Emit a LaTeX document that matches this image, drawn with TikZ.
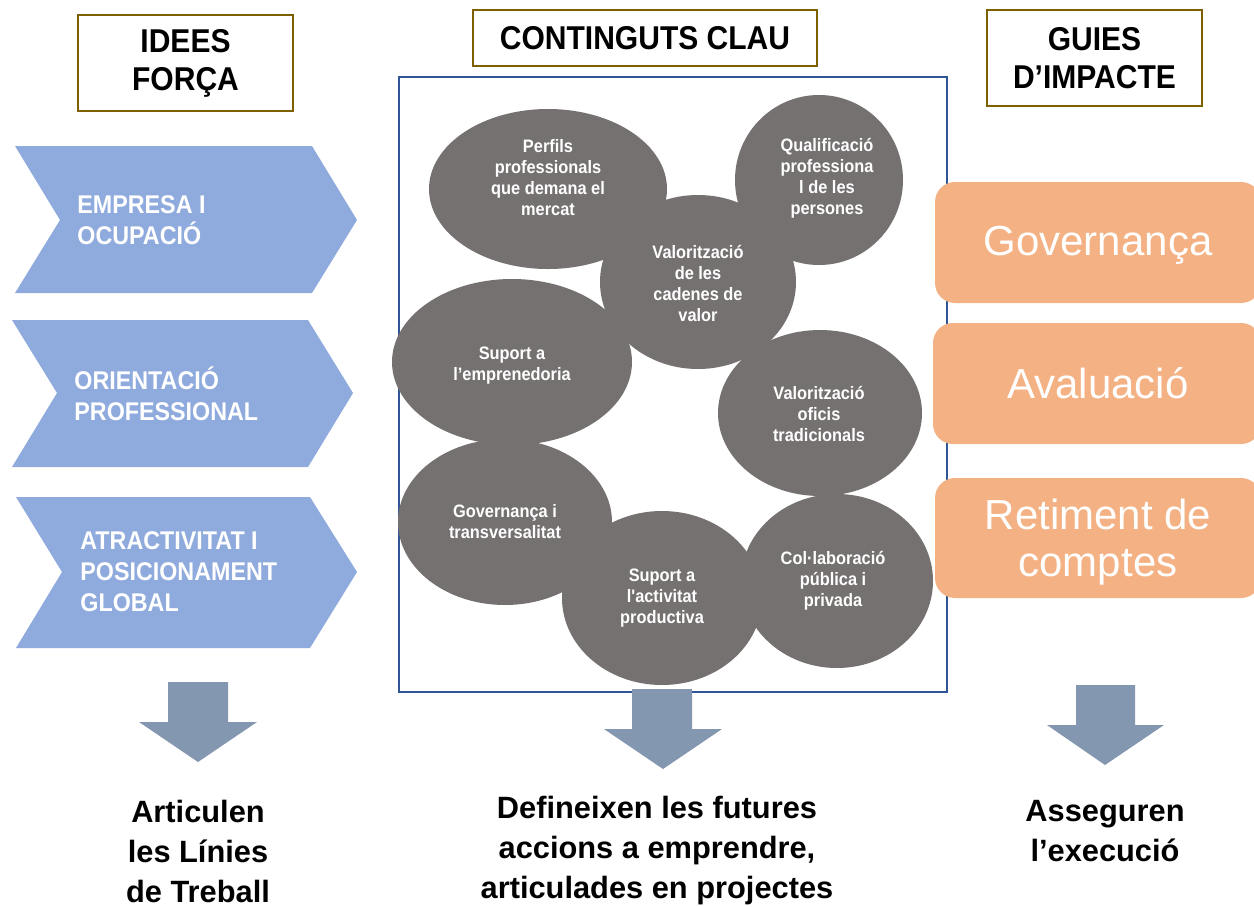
\documentclass[tikz,border=0pt]{standalone}
\usepackage{fontspec}
\setmainfont{Liberation Sans}
\newfontfamily\narrowsans{Liberation Sans}[FakeStretch=0.91]
\usetikzlibrary{shapes.geometric}
\definecolor{chevblue}{HTML}{8FAADC}
\definecolor{ellgray}{HTML}{767171}
\definecolor{orangebox}{HTML}{F4B183}
\definecolor{arrowgray}{HTML}{8497B0}
\definecolor{frameblue}{HTML}{2F5597}
\definecolor{headborder}{HTML}{7F6000}
\tikzset{
  headbox/.style={draw=headborder, line width=0.8pt, fill=white, font=\narrowsans\bfseries\fontsize{16.5}{19}\selectfont, align=center, inner sep=0pt},
  chevtext/.style={text=white, font=\narrowsans\bfseries\fontsize{12.8}{15.5}\selectfont, align=left, anchor=west, inner sep=0pt},
  ell/.style={ellipse, fill=ellgray, inner sep=0pt},
  elltext/.style={text=white, font=\narrowsans\bfseries\fontsize{9}{10.5}\selectfont, align=center, inner sep=0pt},
  orangetext/.style={text=white, font=\fontsize{21}{23.5}\selectfont, align=center, inner sep=0pt},
  bottomtext/.style={font=\bfseries\fontsize{15.4}{20}\selectfont, align=center, inner sep=0pt},
  blockarrow/.style={fill=arrowgray, draw=none},
}
\begin{document}
\begin{tikzpicture}[x=0.5pt,y=-0.5pt]
\clip (0,0) rectangle (1254,906);
\fill[white] (0,0) rectangle (1254,906);

% header boxes
\node[headbox, minimum width=107.5pt, minimum height=48pt] (h1) at (185.5,63) {IDEES\\FORÇA};
\node[headbox, minimum width=172pt, minimum height=28pt] (h2) at (645,38) {CONTINGUTS CLAU};
\node[headbox, minimum width=107.5pt, minimum height=48pt] (h3) at (1094.5,58) {GUIES\\D’IMPACTE};

% chevrons
\fill[chevblue] (15,146) -- (312,146) -- (357,220) -- (312,293) -- (15,293) -- (60,220) -- cycle;
\fill[chevblue] (12,320) -- (308,320) -- (353,393) -- (308,467) -- (12,467) -- (57,393) -- cycle;
\fill[chevblue] (16,497) -- (310,497) -- (357,572) -- (310,648) -- (16,648) -- (62,572) -- cycle;
\node[chevtext] (c1) at (77,220) {EMPRESA I\\OCUPACIÓ};
\node[chevtext] (c2) at (74,394) {ORIENTACIÓ\\PROFESSIONAL};
\node[chevtext] (c3) at (80,572) {ATRACTIVITAT I\\POSICIONAMENT\\GLOBAL};

% frame
\draw[frameblue, line width=1pt] (399,77) rectangle (947,692);

% ellipses
\node[ell, minimum width=119pt, minimum height=80pt] (e1) at (548,189) {};
\node[ell, minimum width=84pt, minimum height=85pt] (e2) at (819,180) {};
\node[ell, minimum width=98pt, minimum height=87pt] (e3) at (698,282) {};
\node[ell, minimum width=120pt, minimum height=83pt] (e4) at (512,362) {};
\node[ell, minimum width=102pt, minimum height=83pt] (e5) at (820,413) {};
\node[ell, minimum width=107pt, minimum height=83pt] (e6) at (505,522) {};
\node[ell, minimum width=100pt, minimum height=87pt] (e7) at (662,598) {};
\node[ell, minimum width=96pt, minimum height=87pt] (e8) at (837,581) {};

\node[elltext] (t1) at (548,178) {Perfils\\professionals\\que demana el\\mercat};
\node[elltext] (t2) at (827,178) {Qualificació\\professiona\\l de les\\persones};
\node[elltext] (t3) at (698,283) {Valorització\\de les\\cadenes de\\valor};
\node[elltext] (t4) at (512,366) {Suport a\\l’emprenedoria};
\node[elltext] (t5) at (819,414) {Valorització\\oficis\\tradicionals};
\node[elltext] (t6) at (505,522) {Governança i\\transversalitat};
\node[elltext] (t7) at (662,598) {Suport a\\l{\char"0027}activitat\\productiva};
\node[elltext] (t8) at (833,581) {Col·laboració\\pública i\\privada};

% orange boxes
\fill[orangebox, rounded corners=10pt] (935,182) rectangle (1261,303);
\fill[orangebox, rounded corners=10pt] (933,323) rectangle (1261,444);
\fill[orangebox, rounded corners=10pt] (935,478) rectangle (1261,598);
\node[orangetext] (o1) at (1098,245) {Governança};
\node[orangetext] (o2) at (1098,383) {Avaluació};
\node[orangetext] (o3) at (1098,542) {Retiment de\\comptes};

% block arrows
\fill[blockarrow] (168,682) -- (228,682) -- (228,722) -- (257,722) -- (198,762) -- (139,722) -- (168,722) -- cycle;
\fill[blockarrow] (632,689) -- (692,689) -- (692,729) -- (722,729) -- (663,769) -- (604,729) -- (632,729) -- cycle;
\fill[blockarrow] (1076,685) -- (1135,685) -- (1135,725) -- (1164,725) -- (1105,765) -- (1047,725) -- (1076,725) -- cycle;

% bottom texts
\node[bottomtext] (b1) at (198,851) {Articulen\\les Línies\\de Treball};
\node[bottomtext] (b2) at (657,851) {Defineixen les futures\\accions a emprendre,\\articulades en projectes};
\node[bottomtext] (b3) at (1105,831) {Asseguren\\l’execució};
\end{tikzpicture}
\end{document}
